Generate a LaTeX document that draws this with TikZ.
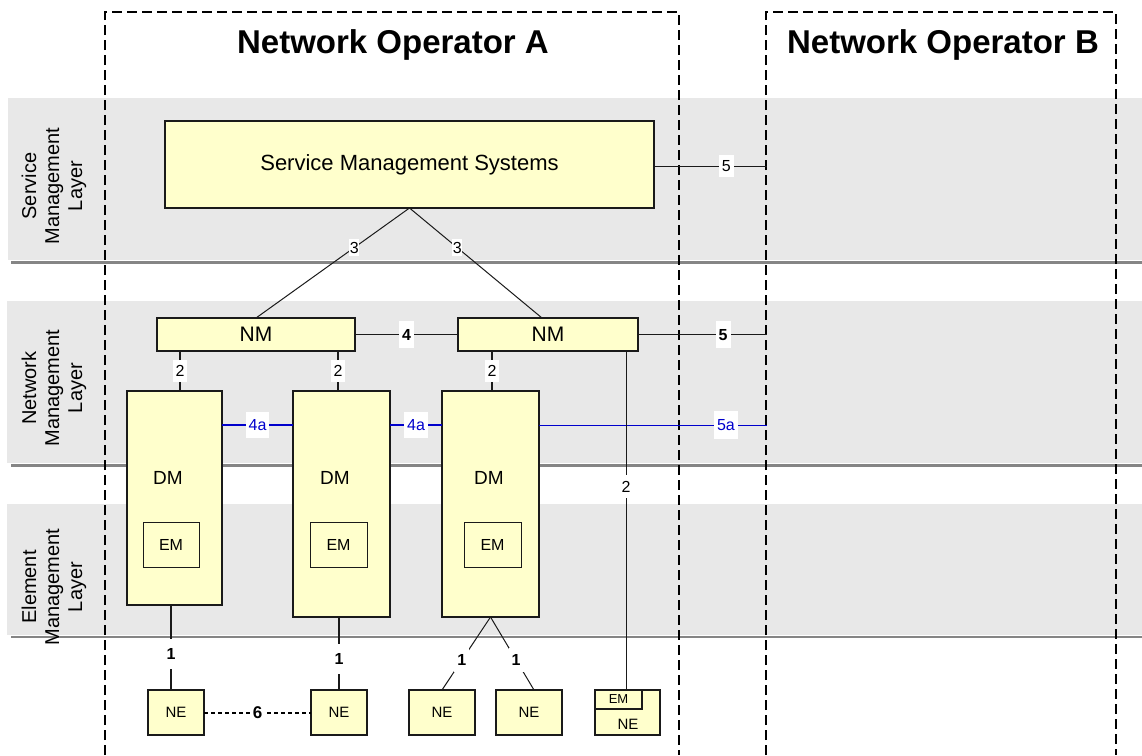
\documentclass[tikz,border=0pt]{standalone}
\usepackage{fontspec}
\setmainfont{Liberation Sans}
\usetikzlibrary{calc}
\definecolor{boxfill}{HTML}{FFFFCC}
\definecolor{bandgray}{HTML}{E8E8E8}
\definecolor{sepgray}{HTML}{858585}
\definecolor{linkblue}{HTML}{0000CC}
\definecolor{edge}{HTML}{1A1A1A}
\newcommand{\setpx}[1]{\fontsize{#1}{#1}\selectfont}
\begin{document}
\begin{tikzpicture}[x=1pt,y=-1pt,
  band/.style={fill=bandgray},
  sep/.style={draw=sepgray,line width=2.5pt},
  oper/.style={draw=black,line width=2pt,dash pattern=on 10pt off 5pt},
  title/.style={font=\bfseries\setpx{33}},
  layerlbl/.style={rotate=90,align=center,font=\fontsize{20}{23}\selectfont},
  mgmt/.style={draw=edge,fill=boxfill,line width=1.3pt,inner sep=0pt,outer sep=0pt},
  inner/.style={draw=edge,line width=1pt,inner sep=0pt,outer sep=0pt},
  conn/.style={draw=edge,line width=1pt},
  vconn/.style={draw=edge,line width=1.4pt},
  lbl/.style={fill=white,inner xsep=3pt,inner ysep=6pt,text height=11.5pt,text depth=0pt,font=\setpx{16}},
  lblb/.style={lbl,font=\bfseries\setpx{16}},
  lblthin/.style={fill=white,inner xsep=0.5pt,inner ysep=3pt,text height=11.5pt,text depth=0pt,font=\setpx{16}},
  bluethick/.style={draw=linkblue,line width=2.2pt},
  bluethin/.style={draw=linkblue,line width=1pt},
  neline/.style={draw=black,line width=2pt,dash pattern=on 4pt off 3pt}
]
\useasboundingbox (0,0) rectangle (1142,755);

% layer bands and separators
\fill[band] (8,98) rectangle (1142,260);
\fill[band] (7,301) rectangle (1142,463);
\fill[band] (7,504) rectangle (1142,635);
\draw[sep] (11,262.5) -- (1142,262.5);
\draw[sep] (11,465.5) -- (1142,465.5);
\draw[sep] (11,637) -- (1142,637);

% layer names
\node[layerlbl] (lsml) at (54,186) {Service\\Management\\Layer};
\node[layerlbl] (lnml) at (54,388) {Network\\Management\\Layer};
\node[layerlbl] (leml) at (54,587) {Element\\Management\\Layer};

% operator domains
\draw[oper] (105,755) -- (105,12) -- (679,12) -- (679,755);
\draw[oper] (766,755) -- (766,12) -- (1116,12) -- (1116,755);
\node[title] (tA) at (393,45) {Network Operator A};
\node[title] (tB) at (943,45) {Network Operator B};

% service management
\node[mgmt,minimum width=489pt,minimum height=87pt,font=\setpx{22}] (sms) at (409.5,164.5) {Service Management Systems};

% network managers
\node[mgmt,minimum width=198pt,minimum height=33pt,font=\setpx{21}] (nm1) at (256,334.5) {NM};
\node[mgmt,minimum width=180pt,minimum height=33pt,font=\setpx{21}] (nm2) at (548,334.5) {NM};

% domain managers with element managers
\node[mgmt,minimum width=95pt,minimum height=214pt] (dm1) at (174.5,498) {};
\node[mgmt,minimum width=97pt,minimum height=226pt] (dm2) at (341.5,504) {};
\node[mgmt,minimum width=97pt,minimum height=226pt] (dm3) at (490.5,504) {};
\node[font=\setpx{19}] (dm1t) at (168,478) {DM};
\node[font=\setpx{19}] (dm2t) at (335,478) {DM};
\node[font=\setpx{19}] (dm3t) at (489,478) {DM};
\node[inner,minimum width=56pt,minimum height=45pt,font=\setpx{16}] (em1) at (171,544.5) {EM};
\node[inner,minimum width=57pt,minimum height=45pt,font=\setpx{16}] (em2) at (338.5,544.5) {EM};
\node[inner,minimum width=57pt,minimum height=45pt,font=\setpx{16}] (em3) at (492.5,544.5) {EM};

% network elements
\node[mgmt,minimum width=56pt,minimum height=45pt,font=\setpx{15}] (ne1) at (176,712.5) {NE};
\node[mgmt,minimum width=56pt,minimum height=45pt,font=\setpx{15}] (ne2) at (339,712.5) {NE};
\node[mgmt,minimum width=66pt,minimum height=45pt,font=\setpx{15}] (ne3) at (442,712.5) {NE};
\node[mgmt,minimum width=66pt,minimum height=45pt,font=\setpx{15}] (ne4) at (529,712.5) {NE};
\node[mgmt,line width=2pt,minimum width=65pt,minimum height=45pt] (ne5) at (627.5,712.5) {};
\node[inner,line width=1.6pt,anchor=north west,minimum width=47pt,minimum height=19pt,font=\setpx{13}] (em4) at (ne5.north west) {EM};
\node[font=\setpx{15}] (ne5t) at (628,724) {NE};

% interface points on the Operator B boundary
\coordinate (b5s) at (767,166);
\coordinate (b5n) at (767,334.5);
\coordinate (b5a) at (767,425);

% service to network management
\draw[conn] (sms.south) -- node[lblthin,pos=0.36]{3} (nm1.north);
\draw[conn] (sms.south) -- node[lblthin,pos=0.36]{3} ([xshift=-6pt]nm2.north);
\draw[conn] (sms.east |- b5s) -- node[lbl,pos=0.64,inner ysep=5pt]{5} (b5s);

% network management peers
\draw[conn] (nm1.east) -- node[lblb,inner ysep=8pt]{4} (nm2.west);
\draw[conn] (nm2.east) -- node[lblb,pos=0.66,inner ysep=8pt]{5} (b5n);

% network to domain management
\draw[vconn] ([xshift=-76pt]nm1.south) -- node[lbl,inner ysep=5pt]{2} ([xshift=5.5pt]dm1.north);
\draw[vconn] ([xshift=82pt]nm1.south) -- node[lbl,inner ysep=5pt]{2} ([xshift=-3.5pt]dm2.north);
\draw[vconn] ([xshift=-56pt]nm2.south) -- node[lbl,inner ysep=5pt]{2} ([xshift=1.5pt]dm3.north);

% domain manager peers
\draw[bluethick] ([yshift=-34pt]dm1.north east) -- node[lbl,text=linkblue,inner ysep=7pt]{4a} ([yshift=-34pt]dm2.north west);
\draw[bluethick] ([yshift=-34pt]dm2.north east) -- node[lbl,text=linkblue,inner ysep=7pt]{4a} ([yshift=-34pt]dm3.north west);
\draw[bluethin] ([yshift=-34pt]dm3.north east) -- node[lbl,text=linkblue,pos=0.82,inner ysep=8pt]{5a} (b5a);

% direct management of the NE with its own EM
\coordinate (nm2d) at ([xshift=-12pt]nm2.south east);
\draw[conn] (nm2d) -- node[lblthin,pos=0.4,inner xsep=1pt,inner ysep=6pt]{2} (nm2d |- ne5.north);

% domain managers to network elements
\coordinate (d1) at ([xshift=-3.5pt]dm1.south);
\coordinate (d2) at ([xshift=-2.5pt]dm2.south);
\draw[vconn] (d1) -- node[lblb,pos=0.576,inner ysep=9pt]{1} (d1 |- ne1.north);
\draw[vconn] (d2) -- node[lblb,pos=0.575,inner ysep=9pt]{1} (d2 |- ne2.north);
\draw[conn] (dm3.south) -- node[lblb,pos=0.59,inner ysep=6pt]{1} (ne3.north);
\draw[conn] (dm3.south) -- node[lblb,pos=0.59,inner ysep=6pt]{1} ([xshift=5pt]ne4.north);

% NE to NE link
\draw[neline] (ne1.east) -- node[lblb,font=\bfseries\setpx{17},inner ysep=4pt]{6} (ne2.west);
\end{tikzpicture}
\end{document}
